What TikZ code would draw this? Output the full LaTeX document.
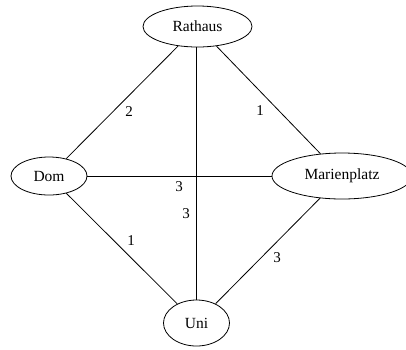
\documentclass[tikz,border=0pt]{standalone}
\usepackage{fontspec}
\setmainfont{Liberation Serif}
\usetikzlibrary{shapes.geometric}
\begin{document}
\begin{tikzpicture}[x=1pt,y=-1pt,
  place/.style={draw,ellipse,line width=0.8pt,inner sep=0pt,font=\fontsize{15.5}{18}\selectfont},
  edge/.style={draw,line width=0.8pt},
  wlabel/.style={inner sep=0pt,font=\fontsize{15}{18}\selectfont}]
\useasboundingbox (0,0) rectangle (406,349);
\node[place,minimum width=109pt,minimum height=41pt] (R) at (197.5,26.5) {Rathaus};
\node[place,minimum width=76pt,minimum height=38pt] (D) at (49,176) {Dom};
\node[place,minimum width=140pt,minimum height=46pt] (M) at (342,176) {Marienplatz};
\node[place,minimum width=66pt,minimum height=46pt] (U) at (196.5,323) {Uni};
\draw[edge] (R) -- (D);
\draw[edge] (R) -- (M);
\draw[edge] (R.south -| U.north) -- (U.north);
\draw[edge] (D) -- (M);
\draw[edge] (D) -- (U);
\draw[edge] (M) -- (U);
\node[wlabel] (l1) at (129,112) {2};
\node[wlabel] (l2) at (260,111) {1};
\node[wlabel] (l3) at (179,187) {3};
\node[wlabel] (l4) at (186,214) {3};
\node[wlabel] (l5) at (131,241) {1};
\node[wlabel] (l6) at (277,258) {3};
\end{tikzpicture}
\end{document}
